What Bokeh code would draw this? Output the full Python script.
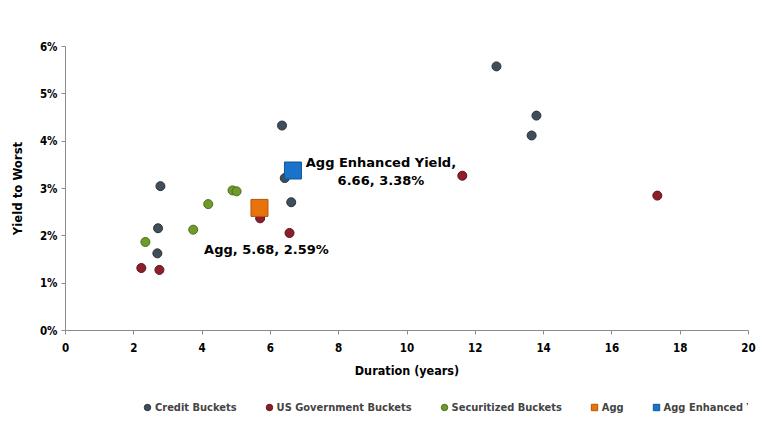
from bokeh.plotting import figure
from bokeh.layouts import column
from bokeh.models import Range1d, FixedTicker, PrintfTickFormatter, Label, Legend, LegendItem
from bokeh.embed import file_html
from bokeh.resources import INLINE

# ---- data ----
credit_x = [2.78, 2.71, 2.69, 6.34, 6.42, 6.61, 12.62, 13.79, 13.65]
credit_y = [3.05, 2.16, 1.63, 4.33, 3.22, 2.71, 5.58, 4.54, 4.12]
gov_x = [2.22, 2.75, 5.70, 6.56, 11.62, 17.33]
gov_y = [1.32, 1.28, 2.37, 2.06, 3.27, 2.85]
sec_x = [2.34, 3.74, 4.18, 4.89, 5.01]
sec_y = [1.87, 2.13, 2.67, 2.96, 2.94]
agg_x, agg_y = 5.68, 2.59
enh_x, enh_y = 6.66, 3.38
x_ticks = [0, 2, 4, 6, 8, 10, 12, 14, 16, 18, 20]
y_ticks = [0, 1, 2, 3, 4, 5, 6]
series_names = ["Credit Buckets", "US Government Buckets", "Securitized Buckets",
                "Agg", "Agg Enhanced Yield"]

FONT = "DejaVu Sans Condensed"
AXIS_COL = "#8c8c8c"
styles = [
    dict(marker="circle", size=9, fill_color="#414e5a", line_color="#2a333b"),
    dict(marker="circle", size=9, fill_color="#8e1f2a", line_color="#5e1118"),
    dict(marker="circle", size=9, fill_color="#6f9a2c", line_color="#4d6d1b"),
    dict(marker="square", size=17, fill_color="#e8720c", line_color="#b4560a"),
    dict(marker="square", size=17, fill_color="#1a73c9", line_color="#0f5497"),
]

p = figure(width=767, height=392, frame_width=683, frame_height=284,
           output_backend="svg", toolbar_location=None,
           x_range=Range1d(0, 20), y_range=Range1d(0, 6),
           min_border_left=65, min_border_right=19, min_border_top=46, min_border_bottom=62)
p.outline_line_color = None
p.grid.visible = False
p.background_fill_color = "white"
p.border_fill_color = "white"

for ax in (p.xaxis[0], p.yaxis[0]):
    ax.axis_line_color = AXIS_COL
    ax.major_tick_line_color = AXIS_COL
    ax.minor_tick_line_color = None
    ax.major_tick_in = 0
    ax.major_tick_out = 4
    ax.major_label_text_font = FONT
    ax.major_label_text_font_style = "bold"
    ax.major_label_text_font_size = "11.5px"
    ax.major_label_text_color = "black"
    ax.axis_label_text_font = FONT
    ax.axis_label_text_font_style = "bold"
    ax.axis_label_text_font_size = "12.5px"
    ax.axis_label_text_color = "black"

p.xaxis.ticker = FixedTicker(ticks=x_ticks)
p.yaxis.ticker = FixedTicker(ticks=y_ticks)
p.yaxis.formatter = PrintfTickFormatter(format="%d%%")
p.xaxis.axis_label = "Duration (years)"
p.yaxis.axis_label = "Yield to Worst"
p.yaxis.axis_label_text_font_size = "13px"
p.xaxis.major_label_standoff = 8
p.xaxis.axis_label_standoff = 8
p.yaxis.major_label_standoff = 4
p.yaxis.axis_label_standoff = 12

all_x = [credit_x, gov_x, sec_x, [agg_x], [enh_x]]
all_y = [credit_y, gov_y, sec_y, [agg_y], [enh_y]]
for xs, ys, st in zip(all_x, all_y, styles):
    p.scatter(xs, ys, **st)

lab_kw = dict(text_font="DejaVu Sans", text_font_style="bold", text_font_size="13px",
              text_color="black", text_align="center", text_baseline="middle")
p.add_layout(Label(x=agg_x, y=agg_y, x_offset=7, y_offset=-42,
                   text=f"Agg, {agg_x:.2f}, {agg_y:.2f}%", **lab_kw))
p.add_layout(Label(x=enh_x, y=enh_y, x_offset=88, y_offset=8,
                   text="Agg Enhanced Yield,", **lab_kw))
p.add_layout(Label(x=enh_x, y=enh_y, x_offset=88, y_offset=-10,
                   text=f"{enh_x:.2f}, {enh_y:.2f}%", **lab_kw))

# ---- legend strip below the chart (its renderers lie outside its visible range) ----
lf = figure(width=767, height=36, output_backend="svg", toolbar_location=None,
            x_axis_location=None, y_axis_location=None,
            x_range=Range1d(0, 1), y_range=Range1d(0, 1),
            min_border=0, min_border_left=0, min_border_right=0,
            min_border_top=0, min_border_bottom=0)
lf.grid.visible = False
lf.outline_line_color = None
lf.background_fill_color = "white"
lf.border_fill_color = "white"

items = []
for name, xs, ys, st in zip(series_names, all_x, all_y, styles):
    r = lf.scatter(xs, ys, **st)
    items.append(LegendItem(label=name, renderers=[r]))

lg = Legend(items=items, orientation="horizontal", location=(74, 13),
            border_line_color=None, background_fill_alpha=0, padding=0, margin=0,
            spacing=24, glyph_width=16, glyph_height=16, label_standoff=0,
            label_text_font=FONT, label_text_font_style="bold",
            label_text_font_size="11px", label_height=16)
lf.add_layout(lg, "center")

layout = column(p, lf, spacing=0)
open("out.html", "w").write(file_html(layout, INLINE))
